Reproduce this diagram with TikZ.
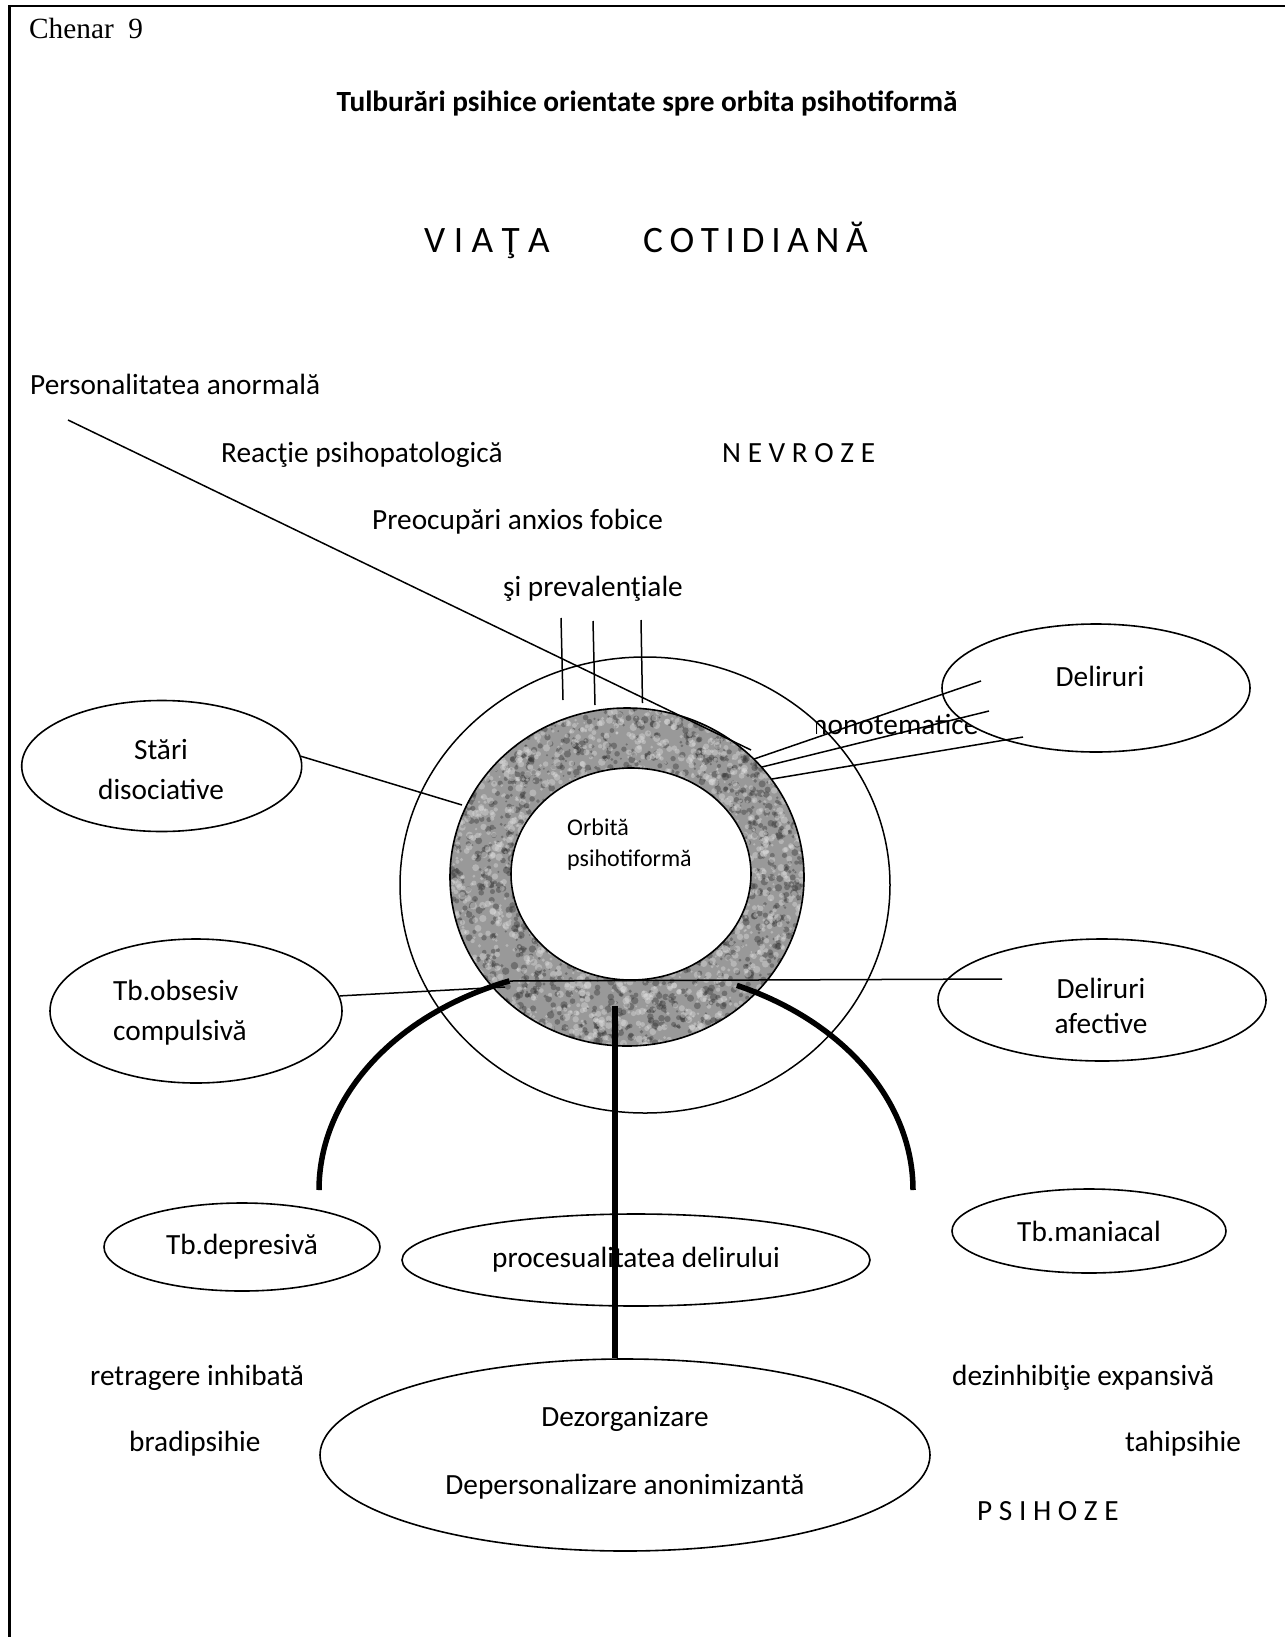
\documentclass[tikz,border=0pt]{standalone}
\usepackage{fontspec}
\setmainfont{Carlito}
\newfontfamily\serifface{Liberation Serif}
\usetikzlibrary{shapes.geometric}

\newcommand\bodysize{\fontsize{29.3}{35}\selectfont}
\newcommand\smallsize{\fontsize{24}{28}\selectfont}
\newcommand\widesize{\fontsize{37.3}{42}\selectfont}
\newcommand\tightwide{\widesize\spaceskip=6.6pt\relax}

\begin{document}
\begin{tikzpicture}[x=1pt,y=-1pt,
  txt/.style={font=\bodysize, inner sep=0pt},
  oval/.style={draw, ellipse, fill=white, line width=1.6pt, inner sep=0pt, font=\bodysize},
  thinline/.style={line width=1.5pt},
  heavy/.style={line width=5.5pt},
  rim/.style={line width=1.6pt},
]
\useasboundingbox (0,0) rectangle (1285,1637);
\fill[white] (0,0) rectangle (1285,1637);

% frame (top and left edges)
\draw[line width=2.4pt] (9.5,1637) -- (9.5,6) -- (1285,6);

% heading texts
\node[txt, font=\serifface\bodysize, anchor=base west] (chenar) at (29,39) {Chenar\ \ 9};
\node[txt, font=\bfseries\bodysize, anchor=base] (title) at (647,112) {Tulburări psihice orientate spre orbita psihotiformă};
\node[txt, font=\widesize, anchor=base west] (viata) at (424,253) {V I A Ţ A};
\node[txt, font=\tightwide, anchor=base west] (cotid) at (643,253) {C O T I D I A N Ă};

% outer orbit
\draw[thinline] (645,885) ellipse [x radius=245, y radius=228];

% textured ring
\begin{scope}
  \clip (627,877) ellipse [x radius=177, y radius=169];
  \fill[black!40] (440,700) rectangle (815,1055);
  \pgfmathsetseed{12}
  \foreach \i in {1,...,2200} {\fill[black!80, opacity=0.4] ({627+177*rand},{877+169*rand}) circle[radius={1+2.8*rnd}];}
  \foreach \i in {1,...,2200} {\fill[black!12, opacity=0.4] ({627+177*rand},{877+169*rand}) circle[radius={1+2.8*rnd}];}
\end{scope}
\draw[rim] (627,877) ellipse [x radius=177, y radius=169];
\draw[rim, fill=white] (631,874) ellipse [x radius=120, y radius=106];

\node[txt, font=\smallsize, anchor=base west] (orb1) at (567,835) {Orbită};
\node[txt, font=\smallsize, anchor=base west] (orb2) at (567,866) {psihotiformă};

% upper labels
\node[txt, anchor=base west] (pers) at (30,394) {Personalitatea anormală};
\node[txt, anchor=base west] (reactie) at (221,462) {Reacţie psihopatologică};
\node[txt, anchor=base west] (nevroze) at (722,462) {N E V R O Z E};
\node[txt, anchor=base west] (preoc) at (372,529) {Preocupări anxios fobice};
\node[txt, anchor=base west] (prev) at (503,596) {şi prevalenţiale};

% diagonal and ticks
\coordinate (diagA) at (68,420);
\coordinate (diagB) at (751,750);
\draw[thinline] (diagA) -- (diagB);
\coordinate (t1a) at (561,618);   \coordinate (t1b) at (563,700);
\coordinate (t2a) at (593,621);   \coordinate (t2b) at (595,705);
\coordinate (t3a) at (641,620);   \coordinate (t3b) at (642.5,703);
\draw[thinline] (t1a) -- (t1b);
\draw[thinline] (t2a) -- (t2b);
\draw[thinline] (t3a) -- (t3b);

% monotematice, partly covered
\begin{scope}
  \clip (816,700) rectangle (1000,750);
  \node[txt, anchor=base west] (mono) at (804,734) {monotematice};
\end{scope}

% Deliruri (upper right)
\node[oval, minimum width=308, minimum height=128] (del) at (1096,688) {};
\node[txt, anchor=base] (delt) at (1100,686) {Deliruri};
\coordinate (m1) at (754,759);  \coordinate (d1) at (981,681);
\coordinate (m2) at (762,767);  \coordinate (d2) at (989,711);
\coordinate (m3) at (772,779);  \coordinate (d3) at (1023,737);
\draw[thinline] (m1) -- (d1);
\draw[thinline] (m2) -- (d2);
\draw[thinline] (m3) -- (d3);

% Stari disociative
\node[oval, minimum width=280, minimum height=131] (stari) at (161.7,766) {};
\node[txt, anchor=base] (st1) at (161,759) {Stări};
\node[txt, anchor=base] (st2) at (161,799) {disociative};
\coordinate (sr) at (462,805);
\draw[thinline] (stari.4) -- (sr);

% Tb. obsesiv compulsiva
\node[oval, minimum width=292, minimum height=144] (obs) at (196,1011) {};
\node[txt, anchor=base west] (ob1) at (113,1000) {Tb.obsesiv};
\node[txt, anchor=base west] (ob2) at (113,1040) {compulsivă};
\coordinate (or) at (505,987);
\draw[thinline] (obs.6) -- (or);

% Deliruri afective
\node[oval, minimum width=328, minimum height=122] (delaf) at (1102,1000) {};
\node[txt, anchor=base] (da1) at (1101,998) {Deliruri};
\node[txt, anchor=base] (da2) at (1101,1033) {afective};
\coordinate (hl) at (510,981);
\coordinate (hr) at (1002,979);
\draw[thinline] (hl) -- (hr);

% lower ovals
\node[oval, minimum width=274, minimum height=84] (man) at (1089,1231) {Tb.maniacal};
\node[oval, minimum width=276, minimum height=88] (dep) at (242,1247) {Tb.depresivă};
\node[oval, minimum width=468, minimum height=92] (proc) at (636,1260) {procesualitatea delirului};
\node[oval, minimum width=610, minimum height=192] (dez) at (625,1455) {};
\node[txt, anchor=base] (dz1) at (625,1426) {Dezorganizare};
\node[txt, anchor=base] (dz2) at (625,1494) {Depersonalizare anonimizantă};

% heavy arch and stem
\draw[heavy] (616,1190) ++(-111:297 and 224) arc[start angle=-111, end angle=-180, x radius=297, y radius=224];
\draw[heavy] (616,1190) ++(-66:297 and 224) arc[start angle=-66, end angle=0, x radius=297, y radius=224];
\coordinate (vtop) at (615,1006);
\draw[heavy] (vtop) -- (vtop |- dez.north);

% side labels
\node[txt, anchor=base west] (retr) at (90,1385) {retragere inhibată};
\node[txt, anchor=base west] (brad) at (129,1451) {bradipsihie};
\node[txt, anchor=base west] (dezin) at (952,1385) {dezinhibiţie expansivă};
\node[txt, anchor=base west] (tahi) at (1125,1451) {tahipsihie};
\node[txt, anchor=base west] (psih) at (977,1520) {P S I H O Z E};
\end{tikzpicture}
\end{document}
